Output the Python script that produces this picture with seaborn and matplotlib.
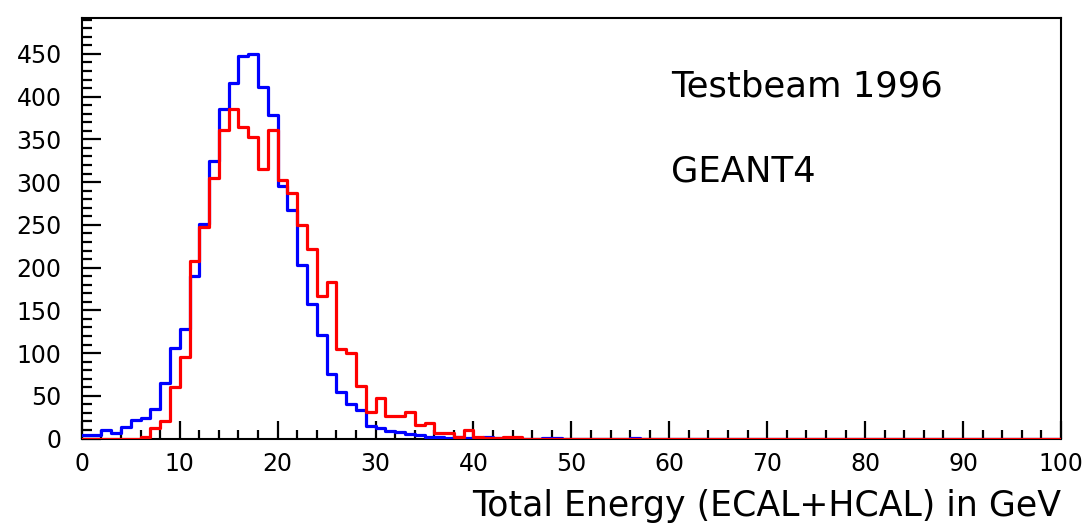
import numpy as np
import pandas as pd
import matplotlib
matplotlib.use("Agg")
import matplotlib.pyplot as plt
import seaborn as sns

# ---- data (1 GeV bins, 0..100 GeV) ----
n_bins = 100
energy_range = (0, 100)
testbeam_counts = [4, 4, 10, 7, 13, 22, 24, 35, 65, 106,
                   128, 190, 251, 325, 386, 416, 448, 450, 411, 379,
                   296, 267, 203, 158, 121, 76, 54, 40, 34, 15,
                   12, 9, 8, 5, 4, 2, 2, 1, 2, 1,
                   1, 2, 1, 1, 1, 0, 0, 1, 1, 0,
                   0, 0, 0, 0, 0, 0, 1, 0, 0, 0] + [0] * 40
geant4_counts = [0, 0, 0, 0, 0, 0, 2, 12, 20, 60,
                 95, 208, 247, 305, 361, 386, 365, 353, 315, 361,
                 303, 287, 250, 222, 167, 183, 105, 100, 62, 31,
                 47, 26, 27, 31, 16, 18, 7, 7, 2, 10,
                 2, 1, 1, 2, 2] + [0] * 55
x_ticks = list(range(0, 101, 10))
y_ticks = list(range(0, 451, 50))
x_label = "Total Energy (ECAL+HCAL) in GeV"
annotations = ["Testbeam 1996", "GEANT4"]

centers = np.arange(n_bins) + 0.5
df_tb = pd.DataFrame({"energy": centers, "count": testbeam_counts})
df_g4 = pd.DataFrame({"energy": centers, "count": geant4_counts})

sns.set_style("white")
plt.rcParams["font.family"] = ["DejaVu Sans"]
plt.rcParams["text.color"] = "black"
plt.rcParams["xtick.color"] = "black"
plt.rcParams["ytick.color"] = "black"

fig = plt.figure(figsize=(10.91, 5.23), dpi=100)
ax = fig.add_axes([0.075, 0.1614, 0.8975, 0.8042])

sns.histplot(data=df_tb, x="energy", weights="count", bins=n_bins, binrange=energy_range,
             element="step", fill=False, color="#0000ff", linewidth=2.3, ax=ax, zorder=3)
sns.histplot(data=df_g4, x="energy", weights="count", bins=n_bins, binrange=energy_range,
             element="step", fill=False, color="#ff0000", linewidth=2.3, ax=ax, zorder=3.1)

ax.set_xlim(0, 100)
ax.set_ylim(0, 492)
ax.set_xticks(x_ticks)
ax.set_yticks(y_ticks)
ax.set_xticks(np.arange(0, 101, 2), minor=True)
ax.set_yticks(np.arange(0, 491, 10), minor=True)
ax.tick_params(axis="both", which="both", direction="in", bottom=True, left=True,
               top=False, right=False, color="black", width=1.6, labelcolor="black")
ax.tick_params(axis="x", which="major", length=13, pad=10, labelsize=17)
ax.tick_params(axis="x", which="minor", length=6.5)
ax.tick_params(axis="y", which="major", length=14, pad=14.5, labelsize=17)
ax.tick_params(axis="y", which="minor", length=7)

for s in ax.spines.values():
    s.set_color("black")
    s.set_linewidth(1.5)

ax.set_ylabel("")
ax.set_xlabel(x_label, fontsize=25, loc="right", labelpad=9, color="black")

ax.text(60.2, 412, annotations[0], fontsize=25.5, va="center", ha="left", color="black")
ax.text(60.2, 312, annotations[1], fontsize=25.5, va="center", ha="left", color="black")

fig.savefig("out.png", dpi=100)
